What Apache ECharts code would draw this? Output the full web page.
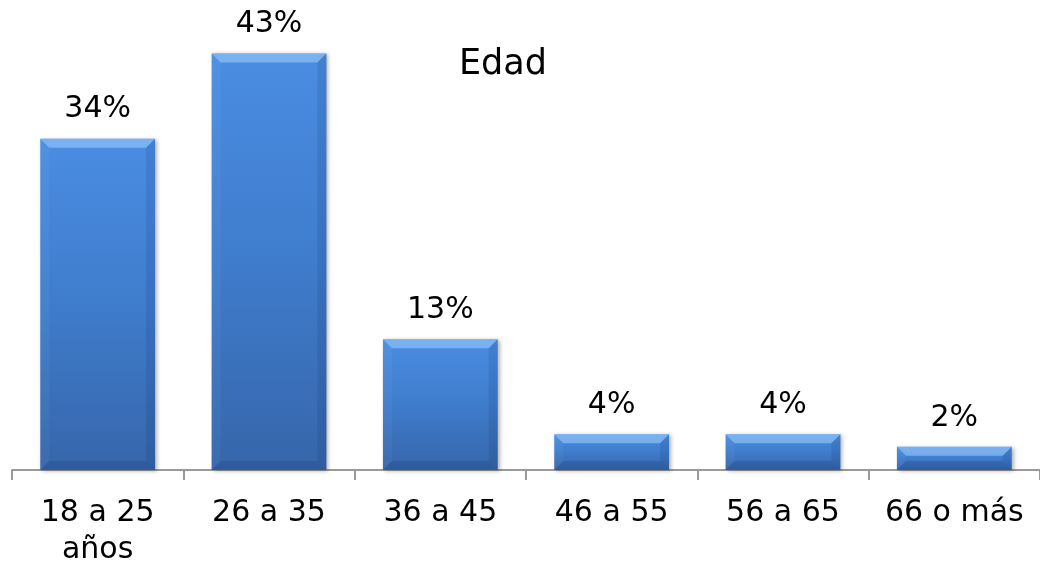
<!DOCTYPE html>
<html>
<head>
<meta charset="utf-8">
<script src="https://cdn.jsdelivr.net/npm/echarts@6/dist/echarts.min.js"></script>
<style>
  html, body { margin: 0; padding: 0; background: #fff; }
  #chart { width: 1040px; height: 562px; }
</style>
</head>
<body>
<div id="chart"></div>
<script>
// Edad — distribución por grupo de edad
const categories = ['18 a 25\naños', '26 a 35', '36 a 45', '46 a 55', '56 a 65', '66 o más'];
const values = [34.2, 43.0, 13.5, 3.7, 3.7, 2.4];
const valueLabels = ['34%', '43%', '13%', '4%', '4%', '2%'];

const FONT = 'DejaVu Sans, Verdana, sans-serif';
const BAR_RATIO = 0.67;
const BEVEL = 9;

// bevel facets drawn over each bar, positioned from the axis scales
function bevel(params, api) {
  const idx = api.value(0);
  const top = api.coord([idx, api.value(1)]);
  const base = api.coord([idx, 0]);
  const w = api.size([1, 0])[0] * BAR_RATIO;
  const x0 = top[0] - w / 2, x1 = top[0] + w / 2;
  const y0 = top[1], y1 = base[1];
  const b = Math.min(BEVEL, (y1 - y0) / 2);
  const poly = (points, fill) => ({ type: 'polygon', shape: { points }, style: { fill }, silent: true });
  return {
    type: 'group',
    children: [
      poly([[x0, y0], [x1, y0], [x1 - b, y0 + b], [x0 + b, y0 + b]], 'rgba(170,215,255,0.5)'),
      poly([[x0, y0], [x0 + b, y0 + b], [x0 + b, y1 - b], [x0, y1]], 'rgba(255,255,255,0.04)'),
      poly([[x1, y0], [x1 - b, y0 + b], [x1 - b, y1 - b], [x1, y1]], 'rgba(0,20,60,0.1)'),
      poly([[x0, y1], [x0 + b, y1 - b], [x1 - b, y1 - b], [x1, y1]], 'rgba(0,20,60,0.12)'),
    ],
  };
}

const chart = echarts.init(document.getElementById('chart'));
chart.setOption({
  animation: false,
  backgroundColor: '#ffffff',
  title: {
    text: 'Edad',
    left: 498,
    top: 42,
    textAlign: 'center',
    textStyle: { fontFamily: FONT, fontSize: 35, fontWeight: 'normal', color: '#000' },
  },
  grid: { top: 34, bottom: 92, left: 12, right: 0, outerBoundsMode: 'none' },
  xAxis: {
    type: 'category',
    data: categories,
    axisLine: { lineStyle: { color: '#9a9a9a', width: 2 } },
    axisTick: { show: true, length: 10, lineStyle: { color: '#9a9a9a', width: 2 } },
    axisLabel: {
      fontFamily: FONT, fontSize: 30, color: '#000',
      margin: 25, lineHeight: 37, interval: 0,
    },
  },
  yAxis: {
    type: 'value',
    min: 0,
    max: 45,
    show: false,
  },
  series: [{
    type: 'bar',
    data: values,
    barWidth: (BAR_RATIO * 100) + '%',
    itemStyle: {
      color: new echarts.graphic.LinearGradient(0, 0, 0, 1, [
        { offset: 0, color: '#4a8de2' },
        { offset: 0.5, color: '#3f7ccc' },
        { offset: 1, color: '#3666aa' },
      ]),
      shadowBlur: 4,
      shadowColor: 'rgba(0,0,0,0.3)',
      shadowOffsetX: 2,
      shadowOffsetY: 1,
    },
    label: {
      show: true,
      position: 'top',
      distance: 14,
      fontFamily: FONT,
      fontSize: 30,
      color: '#000',
      formatter: p => valueLabels[p.dataIndex],
    },
  }, {
    type: 'custom',
    renderItem: bevel,
    data: values.map((v, i) => [i, v]),
    silent: true,
    z: 3,
  }],
});
</script>
</body>
</html>
